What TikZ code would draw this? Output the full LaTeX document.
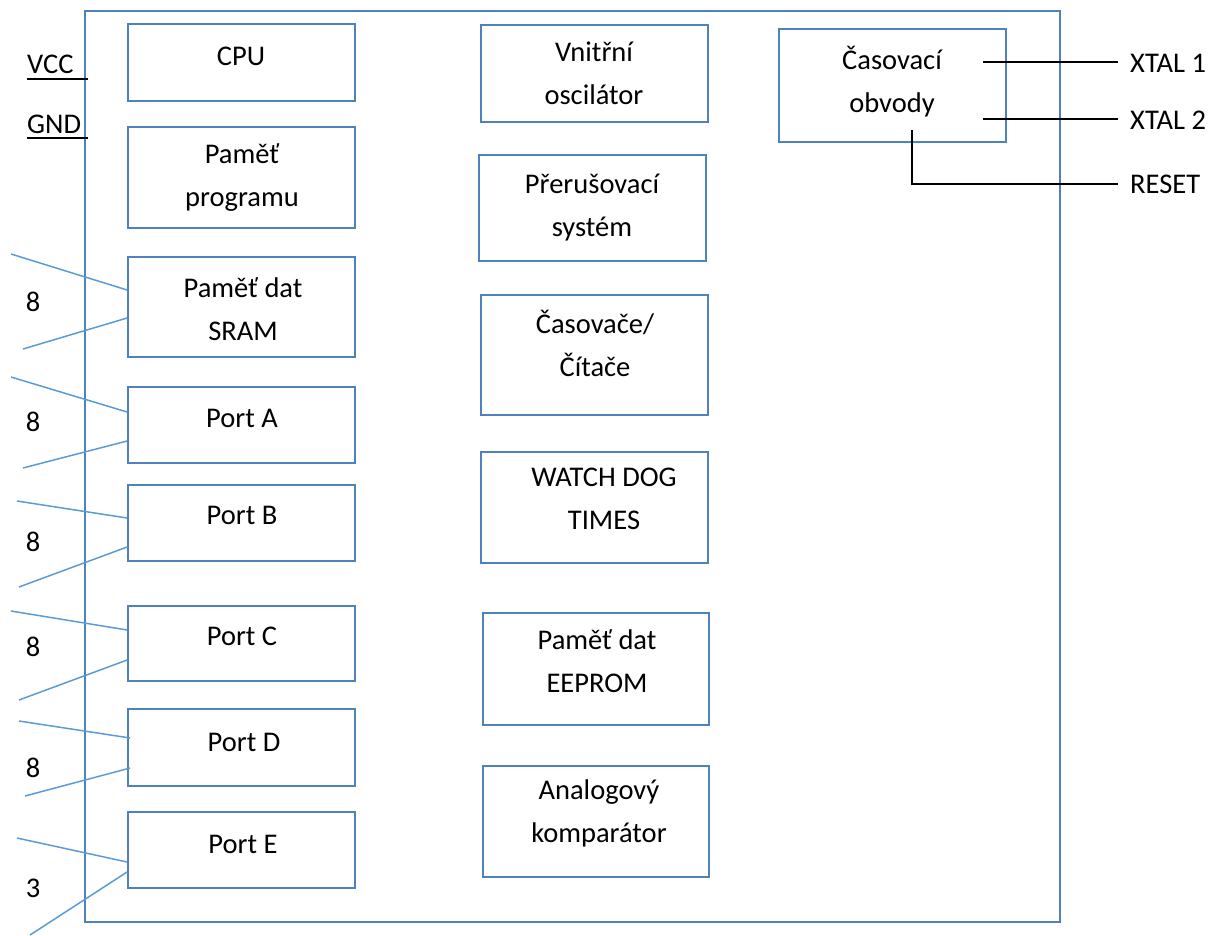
\documentclass[tikz,border=0pt]{standalone}
\usepackage{fontspec}
\setmainfont{Carlito}
\usetikzlibrary{positioning}
\definecolor{ramecek}{HTML}{4F81BD}
\definecolor{sbernice}{HTML}{5B9BD5}
\tikzset{
  blok/.style={draw=ramecek, line width=1.8pt, rectangle, inner sep=0pt},
  popis/.style={align=center, inner sep=0pt, font=\fontsize{28.5}{43}\selectfont},
  vyvod/.style={popis, anchor=west, inner xsep=12pt},
  vodic/.style={draw=black, line width=1.5pt},
  bus/.style={draw=sbernice, line width=1.5pt}
}
\begin{document}
\begin{tikzpicture}[x=1pt, y=-1pt]
  \useasboundingbox (0,0) rectangle (1215,935);

  \node[blok, minimum width=975, minimum height=911] (chip) at (572.5,466.5) {};

  % levy sloupec
  \node[blok, minimum width=227, minimum height=77]  (cpu)   at (241.5,62.5)  {};
  \node[blok, minimum width=227, minimum height=101] (prog)  at (241.5,177.5) {};
  \node[blok, minimum width=227, minimum height=100] (sram)  at (241.5,307)   {};
  \node[blok, minimum width=227, minimum height=76]  (porta) at (241.5,425)   {};
  \node[blok, minimum width=227, minimum height=76]  (portb) at (241.5,523)   {};
  \node[blok, minimum width=227, minimum height=75]  (portc) at (241.5,643.5) {};
  \node[blok, minimum width=227, minimum height=77]  (portd) at (241.5,747.5) {};
  \node[blok, minimum width=227, minimum height=76]  (porte) at (241.5,850)   {};

  \node[popis] (cpuT)   at (241,56)  {CPU};
  \node[popis] (progT)  at (242,178) {Paměť\\programu};
  \node[popis] (sramT)  at (243,309) {Paměť dat\\SRAM};
  \node[popis] (portaT) at (242,418) {Port A};
  \node[popis] (portbT) at (242,515) {Port B};
  \node[popis] (portcT) at (242,636) {Port C};
  \node[popis] (portdT) at (244,742) {Port D};
  \node[popis] (porteT) at (243,844) {Port E};

  % prostredni sloupec
  \node[blok, minimum width=227, minimum height=97]  (osc)  at (594.5,73.5) {};
  \node[blok, minimum width=227, minimum height=106] (prer) at (592.5,208)  {};
  \node[blok, minimum width=227, minimum height=120] (cit)  at (594.5,355)  {};
  \node[blok, minimum width=227, minimum height=111] (wdt)  at (594.5,507.5) {};
  \node[blok, minimum width=226, minimum height=112] (eep)  at (596,669)    {};
  \node[blok, minimum width=226, minimum height=111] (komp) at (596,821.5)  {};

  \node[popis] (oscT)  at (594,73)  {Vnitřní\\oscilátor};
  \node[popis] (prerT) at (592,208) {Přerušovací\\systém};
  \node[popis] (citT)  at (595,343) {Časovače/\\Čítače};
  \node[popis] (wdtT)  at (604,499) {WATCH DOG\\TIMES};
  \node[popis] (eepT)  at (597,661) {Paměť dat\\EEPROM};
  \node[popis] (kompT) at (599,813) {Analogový\\komparátor};

  % casovaci obvody
  \node[blok, minimum width=227, minimum height=113] (casob) at (892.5,85.5) {};
  \node[popis] (casobT) at (892,82) {Časovací\\obvody};

  \node[vyvod] (xt1) at (1118,63)  {XTAL 1};
  \node[vyvod] (xt2) at (1118,120) {XTAL 2};
  \node[vyvod] (rst) at (1118,184) {RESET};
  \coordinate (k1) at (983,62);
  \coordinate (k2) at (983,119);
  \coordinate (k3) at (912,130);
  \draw[vodic] (k1) -- (k1 -| xt1.west);
  \draw[vodic] (k2) -- (k2 -| xt2.west);
  \draw[vodic] (k3) |- (rst.west);

  % napajeni
  \node[popis, anchor=west] (vcc) at (27,64)  {VCC};
  \node[popis, anchor=west] (gnd) at (27,124) {GND};
  \coordinate (vccA) at (27,79);
  \coordinate (gndA) at (27,138);
  \draw[vodic] (vccA) -- (vccA -| chip.west) -- ++(4,0);
  \draw[vodic] (gndA) -- (gndA -| chip.west) -- ++(4,0);

  % sbernice
  \coordinate (s1) at (11,254);  \coordinate (s2) at (23,349);
  \coordinate (a1) at (11,377);  \coordinate (a2) at (23,468);
  \coordinate (b1) at (17,501);  \coordinate (b2) at (19,587);
  \coordinate (c1) at (11,611);  \coordinate (c2) at (19,700);
  \coordinate (d1) at (19,721);  \coordinate (d2) at (25,796);
  \coordinate (e1) at (17,838);  \coordinate (e2) at (30,935);
  \draw[bus] (s1) -- ([yshift=17pt]sram.west);
  \draw[bus] (s2) -- ([yshift=-11pt]sram.west);
  \draw[bus] (a1) -- ([yshift=13pt]porta.west);
  \draw[bus] (a2) -- ([yshift=-16pt]porta.west);
  \draw[bus] (b1) -- ([yshift=5pt]portb.west);
  \draw[bus] (b2) -- ([yshift=-24pt]portb.west);
  \draw[bus] (c1) -- ([yshift=13.5pt]portc.west);
  \draw[bus] (c2) -- ([yshift=-16.5pt]portc.west);
  \draw[bus] (d1) -- ([xshift=3pt,yshift=9.5pt]portd.west);
  \draw[bus] (d2) -- ([xshift=3pt,yshift=-20.5pt]portd.west);
  \draw[bus] (e1) -- ([yshift=-12pt]porte.west);
  \draw[bus] (e2) -- ([yshift=-22pt]porte.west);

  \node[popis] (n1) at (33,302) {8};
  \node[popis] (n2) at (33,422) {8};
  \node[popis] (n3) at (33,542) {8};
  \node[popis] (n4) at (33,647) {8};
  \node[popis] (n5) at (33,768) {8};
  \node[popis] (n6) at (33,888) {3};

\end{tikzpicture}
\end{document}
